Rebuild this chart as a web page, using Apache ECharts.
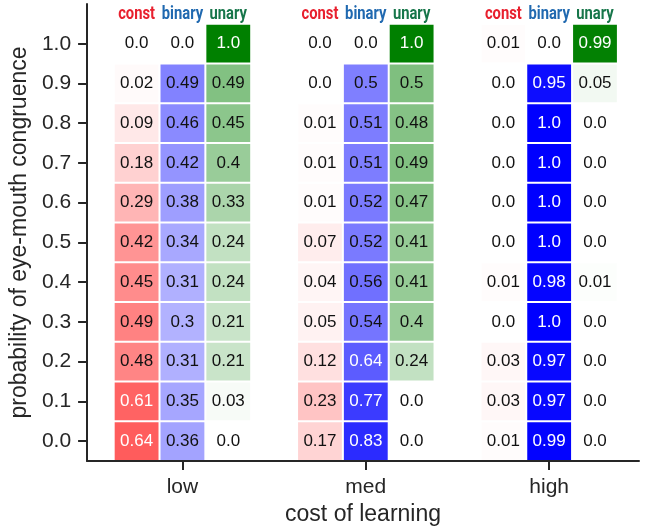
<!DOCTYPE html>
<html>
<head>
<meta charset="utf-8">
<script src="https://cdn.jsdelivr.net/npm/echarts@6/dist/echarts.min.js"></script>
<style>
    html, body { margin: 0; padding: 0; background: #fff; }
    #chart { width: 646px; height: 531px; }
</style>
</head>
<body>
<div id="chart"></div>
<script>
// Categories
const costLevels = ['low', 'med', 'high'];
const strategies = ['const', 'binary', 'unary'];
const probTicks = [0.0, 0.1, 0.2, 0.3, 0.4, 0.5, 0.6, 0.7, 0.8, 0.9, 1.0];

// Values, one per prob tick (0.0 -> 1.0)
const lowConst   = [0.64, 0.61, 0.48, 0.49, 0.45, 0.42, 0.29, 0.18, 0.09, 0.02, 0.0];
const lowBinary  = [0.36, 0.35, 0.31, 0.3, 0.31, 0.34, 0.38, 0.42, 0.46, 0.49, 0.0];
const lowUnary   = [0.0, 0.03, 0.21, 0.21, 0.24, 0.24, 0.33, 0.4, 0.45, 0.49, 1.0];
const medConst   = [0.17, 0.23, 0.12, 0.05, 0.04, 0.07, 0.01, 0.01, 0.01, 0.0, 0.0];
const medBinary  = [0.83, 0.77, 0.64, 0.54, 0.56, 0.52, 0.52, 0.51, 0.51, 0.5, 0.0];
const medUnary   = [0.0, 0.0, 0.24, 0.4, 0.41, 0.41, 0.47, 0.49, 0.48, 0.5, 1.0];
const highConst  = [0.01, 0.03, 0.03, 0.0, 0.01, 0.0, 0.0, 0.0, 0.0, 0.0, 0.01];
const highBinary = [0.99, 0.97, 0.97, 1.0, 0.98, 1.0, 1.0, 1.0, 1.0, 0.95, 0.0];
const highUnary  = [0.0, 0.0, 0.0, 0.0, 0.01, 0.0, 0.0, 0.0, 0.0, 0.05, 0.99];

const table = [
    [lowConst, lowBinary, lowUnary],
    [medConst, medBinary, medUnary],
    [highConst, highBinary, highUnary],
];

// base colors for cells (alpha = value) and header colors
const cellRgb = ['255,0,0', '0,0,255', '0,128,0'];
const headColors = ['#e8202e', '#2069b0', '#17764a'];
const colW = 0.25;
const rowH = 0.1;

// build [x, y, value, strategy]
let cells = [];
table.forEach(function (group, g) {
    group.forEach(function (vals, s) {
        vals.forEach(function (v, i) {
            cells.push([g + (s - 1) * colW, probTicks[i], v, s]);
        });
    });
});
let heads = [];
costLevels.forEach(function (c, g) {
    strategies.forEach(function (name, s) {
        heads.push([g + (s - 1) * colW, 1.073, s]);
    });
});

function fmt(v) {
    let t = String(v);
    return t.indexOf('.') < 0 ? t + '.0' : t;
}

let chart = echarts.init(document.getElementById('chart'));
let option = {
    animation: false,
    grid: { left: 86, right: 7, top: 4, bottom: 69 },
    xAxis: {
        type: 'value',
        min: -0.52,
        max: 2.49,
        name: 'cost of learning',
        nameLocation: 'middle',
        nameGap: 42,
        nameTextStyle: { fontSize: 23, color: '#262626', fontFamily: 'Liberation Sans' },
        axisLine: { show: true, onZero: false, lineStyle: { color: '#262626', width: 2 } },
        axisTick: { show: true, customValues: [0, 1, 2], length: 9, lineStyle: { color: '#262626', width: 2 } },
        axisLabel: {
            customValues: [0, 1, 2],
            margin: 16,
            fontSize: 21,
            color: '#262626',
            fontFamily: 'Liberation Sans',
            formatter: function (v) { return costLevels[Math.round(v)]; },
        },
        splitLine: { show: false },
    },
    yAxis: {
        type: 'value',
        min: -0.05,
        max: 1.1,
        name: 'probability of eye-mouth congruence',
        nameLocation: 'middle',
        nameGap: 56,
        nameTextStyle: { fontSize: 23, color: '#262626', fontFamily: 'Liberation Sans' },
        axisLine: { show: true, onZero: false, lineStyle: { color: '#262626', width: 2 } },
        axisTick: { show: true, customValues: probTicks, length: 9, lineStyle: { color: '#262626', width: 2 } },
        axisLabel: {
            customValues: probTicks,
            margin: 16,
            fontSize: 21,
            color: '#262626',
            fontFamily: 'Liberation Sans',
            formatter: function (v) { return v.toFixed(1); },
        },
        splitLine: { show: false },
    },
    series: [
        {
            type: 'custom',
            data: cells,
            renderItem: function (params, api) {
                let x = api.value(0), y = api.value(1), v = api.value(2), s = api.value(3);
                let p0 = api.coord([x - colW / 2, y + rowH / 2]);
                let p1 = api.coord([x + colW / 2, y - rowH / 2]);
                return {
                    type: 'group',
                    children: [
                        {
                            type: 'rect',
                            shape: { x: p0[0] + 1, y: p0[1] + 1, width: p1[0] - p0[0] - 2, height: p1[1] - p0[1] - 2 },
                            style: { fill: 'rgba(' + cellRgb[s] + ',' + v + ')' },
                        },
                        {
                            type: 'text',
                            style: {
                                text: fmt(v),
                                x: (p0[0] + p1[0]) / 2,
                                y: (p0[1] + p1[1]) / 2,
                                align: 'center',
                                verticalAlign: 'middle',
                                fill: v >= 0.6 ? '#fff' : '#111',
                                font: '17px "Liberation Sans"',
                            },
                        },
                    ],
                };
            },
        },
        {
            type: 'custom',
            data: heads,
            clip: false,
            renderItem: function (params, api) {
                let s = api.value(2);
                let p = api.coord([api.value(0), api.value(1)]);
                // squeeze the bold text so it looks condensed
                return {
                    type: 'text',
                    x: p[0],
                    y: p[1],
                    scaleX: 0.82,
                    style: {
                        text: strategies[s],
                        x: 0,
                        y: 0,
                        align: 'center',
                        verticalAlign: 'middle',
                        fill: headColors[s],
                        font: 'bold 18px Roboto',
                    },
                };
            },
        },
    ],
};
chart.setOption(option);
</script>
</body>
</html>
